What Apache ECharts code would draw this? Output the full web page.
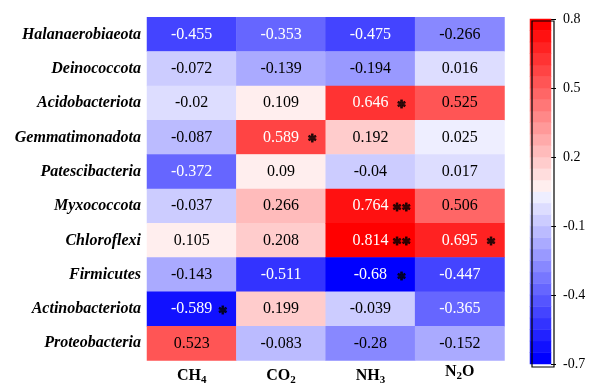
<!DOCTYPE html>
<html><head><meta charset="utf-8">
<script src="https://cdn.jsdelivr.net/npm/echarts@6/dist/echarts.min.js"></script>
<style>html,body{margin:0;padding:0;background:#fff}#c{width:589px;height:390px}</style>
</head><body><div id="c"></div>
<script>
const taxa = ['Halanaerobiaeota','Deinococcota','Acidobacteriota','Gemmatimonadota','Patescibacteria','Myxococcota','Chloroflexi','Firmicutes','Actinobacteriota','Proteobacteria'];
const gases = ['CH4','CO2','NH3','N2O'];
const ch4 = [-0.455,-0.072,-0.02,-0.087,-0.372,-0.037,0.105,-0.143,-0.589,0.523];
const co2 = [-0.353,-0.139,0.109,0.589,0.09,0.266,0.208,-0.511,0.199,-0.083];
const nh3 = [-0.475,-0.194,0.646,0.192,-0.04,0.764,0.814,-0.68,-0.039,-0.28];
const n2o = [-0.266,0.016,0.525,0.025,0.017,0.506,0.695,-0.447,-0.365,-0.152];
const sigCH4 = ['','','','','','','','','*',''];
const sigCO2 = ['','','','*','','','','','',''];
const sigNH3 = ['','','*','','','**','**','*','',''];
const sigN2O = ['','','','','','','*','','',''];
const colorbarTicks = [-0.7,-0.4,-0.1,0.2,0.5,0.8];
const colorbarMin = -0.7, colorbarMax = 0.8;
const levelStart = -0.68, levelStep = 0.05, levelCount = 30;

const FONT = "'Liberation Serif','Times New Roman',serif";
const columns = [ch4, co2, nh3, n2o];
const sigs = [sigCH4, sigCO2, sigNH3, sigN2O];

// colour levels: blue -> white -> red
const levelColors = [];
for (let i = 0; i < 15; i++) { const c = Math.round(255 * i / 15); levelColors.push(`rgb(${c},${c},255)`); }
for (let j = 0; j < 15; j++) { const c = Math.round(255 * (14 - j) / 15); levelColors.push(`rgb(255,${c},${c})`); }
const pieces = [];
for (let k = 0; k < levelCount; k++) {
  const lo = +(levelStart + levelStep * k).toFixed(3);
  const hi = +(levelStart + levelStep * (k + 1)).toFixed(3);
  const p = { color: levelColors[k] };
  if (k > 0) p.gte = lo;
  if (k < levelCount - 1) p.lt = hi;
  pieces.push(p);
}

// colour bar: one swatch per level, from min to max
const barLevels = [];
const barData = [];
for (let k = 0; k < levelCount; k++) {
  barLevels.push(String(k));
  barData.push([0, k, +(colorbarMin + (colorbarMax - colorbarMin) * (k + 0.5) / levelCount).toFixed(4)]);
}

const heatData = [];
const starData = [];
columns.forEach((col, x) => {
  col.forEach((v, y) => {
    const white = v < -0.3 || v > 0.55;
    heatData.push({ value: [x, y, v], label: { color: white ? '#fff' : '#000' } });
    if (sigs[x][y]) starData.push({ name: sigs[x][y].replace(/\*/g, '\u2731'), value: [x, y] });
  });
});

const gasLabel = g => {
  if (g === 'N2O') return '{m2|N}{s2|2}{m2|O}';
  return '{m|' + g.slice(0, 2) + '}{s|' + g.slice(2) + '}';
};

const CB = { left: 530, top: 19, width: 21, height: 345 };

const chart = echarts.init(document.getElementById('c'));
chart.setOption({
  animation: false,
  backgroundColor: '#fff',
  grid: [
    { left: 147, top: 17.3, width: 357.5, height: 344 },
    { left: CB.left, top: CB.top, width: CB.width, height: CB.height }
  ],
  xAxis: [
    { type: 'category', data: gases, gridIndex: 0, position: 'bottom',
      axisLine: { show: false }, axisTick: { show: false }, splitLine: { show: false },
      axisLabel: { interval: 0, formatter: v => gasLabel(v), margin: 6.5,
        rich: {
          m: { fontFamily: FONT, fontSize: 16, fontWeight: 'bold', color: '#000', lineHeight: 18, padding: [6, 0, 6, 0] },
          s: { fontFamily: FONT, fontSize: 11, fontWeight: 'bold', color: '#000', lineHeight: 13, padding: [13, 0, 4, 0] },
          m2: { fontFamily: FONT, fontSize: 16, fontWeight: 'bold', color: '#000', lineHeight: 18, padding: [1.5, 0, 10.5, 0] },
          s2: { fontFamily: FONT, fontSize: 11, fontWeight: 'bold', color: '#000', lineHeight: 13, padding: [8.5, 0, 8.5, 0] }
        } } },
    { type: 'category', gridIndex: 1, show: false, data: [''] }
  ],
  yAxis: [
    { type: 'category', data: taxa, inverse: true, gridIndex: 0,
      axisLine: { show: false }, axisTick: { show: false }, splitLine: { show: false },
      axisLabel: { interval: 0, fontFamily: FONT, fontSize: 16, fontWeight: 'bold', fontStyle: 'italic', color: '#000', margin: 6 } },
    { type: 'category', gridIndex: 1, show: false, data: barLevels },
    { type: 'value', gridIndex: 1, min: colorbarMin, max: colorbarMax, position: 'right',
      axisLine: { show: false }, splitLine: { show: false },
      axisTick: { show: true, customValues: colorbarTicks, length: 5, lineStyle: { color: '#000', width: 1 } },
      axisLabel: { customValues: colorbarTicks, fontFamily: FONT, fontSize: 14, color: '#000', margin: 12,
        formatter: v => String(+v.toFixed(1)) } }
  ],
  visualMap: {
    type: 'piecewise', pieces: pieces, seriesIndex: [0, 2], show: false, dimension: 2
  },
  graphic: [
    { type: 'rect', left: CB.left - 0.5, top: CB.top - 0.5, z: 100, silent: true,
      shape: { width: CB.width + 1, height: CB.height + 1 },
      style: { fill: null, stroke: '#000', lineWidth: 1.2 } }
  ],
  series: [
    { type: 'heatmap', xAxisIndex: 0, yAxisIndex: 0, data: heatData, silent: true,
      itemStyle: { borderWidth: 0 },
      label: { show: true, fontFamily: FONT, fontSize: 16, formatter: p => String(p.value[2]) } },
    { type: 'scatter', xAxisIndex: 0, yAxisIndex: 0, data: starData, symbolSize: 0, silent: true,
      label: { show: true, position: 'inside', formatter: '{b}', offset: [31, 2],
        fontFamily: "'DejaVu Sans',sans-serif", fontSize: 11, fontWeight: 'bold', color: '#000',
        textBorderColor: '#000', textBorderWidth: 0.8 } },
    { type: 'heatmap', xAxisIndex: 1, yAxisIndex: 1, data: barData, silent: true,
      itemStyle: { borderWidth: 0 }, label: { show: false } }
  ]
});
</script></body></html>
